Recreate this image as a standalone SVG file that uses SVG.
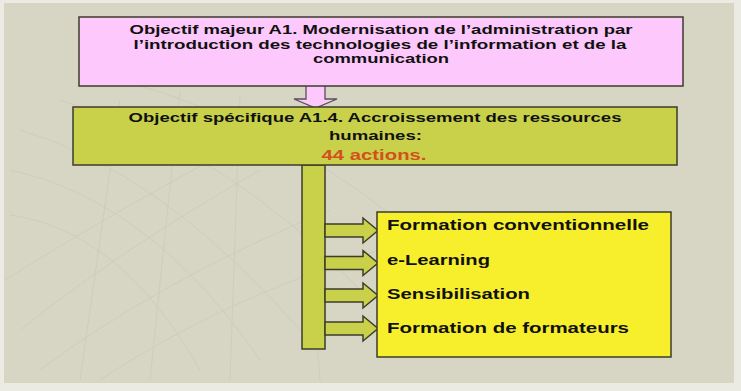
<svg xmlns="http://www.w3.org/2000/svg" width="741" height="391" viewBox="0 0 741 391">
  <style>
    .t { font-family: "Liberation Sans", Arial, sans-serif; font-weight: bold; fill: #111; }
    .c { text-anchor: middle; }
    .box { stroke: #3e3d2c; stroke-width: 1.5; }
    .pink { fill: #fdc8fb; }
    .green { fill: #c9d14b; }
    .yellow { fill: #f7ef2c; }
    .deco { fill: none; stroke: #bebca9; stroke-width: 0.8; opacity: 0.4; }
  </style>

  <!-- slide background -->
  <rect x="0" y="0" width="741" height="391" fill="#ecebe3"/>
  <rect x="4" y="3" width="730" height="380" fill="#d7d5c3"/>

  <!-- faint decorative grid sweeping out of the lower left -->
  <g id="background-grid" class="deco">
    <path d="M20 130 Q160 170 300 330"/>
    <path d="M10 170 Q150 200 260 360"/>
    <path d="M10 215 Q120 230 200 370"/>
    <path d="M60 100 Q230 150 360 290"/>
    <path d="M120 80 Q300 130 420 240"/>
    <path d="M20 330 Q120 250 260 170"/>
    <path d="M40 370 Q160 280 330 210"/>
    <path d="M100 380 Q220 300 380 250"/>
    <path d="M5 280 Q100 220 230 150"/>
    <path d="M180 90 L150 380"/>
    <path d="M240 95 L230 380"/>
    <path d="M120 100 L80 380"/>
    <path d="M300 110 L320 380"/>
  </g>

  <!-- connectors: arrow between objectives, trunk and branch arrows -->
  <g id="connectors">
    <polygon class="pink" stroke="#5b4e5a" stroke-width="1.3"
             points="306,85 325,85 325,99 337,99 315.5,108 294,99 306,99"/>
    <rect class="green box" x="302" y="165" width="23" height="184"/>
    <polygon class="green box" points="325,224 363,224 363,218 378,230.5 363,243 363,237 325,237"/>
    <polygon class="green box" points="325,256.5 363,256.5 363,250.5 378,263 363,275.5 363,269.5 325,269.5"/>
    <polygon class="green box" points="325,289 363,289 363,283 378,295.5 363,308 363,302 325,302"/>
    <polygon class="green box" points="325,322 363,322 363,316 378,328.5 363,341 363,335 325,335"/>
  </g>

  <!-- major objective -->
  <g id="objectif-majeur">
    <rect class="pink box" x="79" y="17" width="604" height="69"/>
    <text class="t c" x="381" y="34" font-size="13" textLength="503" lengthAdjust="spacingAndGlyphs">Objectif majeur A1. Modernisation de l’administration par</text>
    <text class="t c" x="380" y="48.5" font-size="13" textLength="493" lengthAdjust="spacingAndGlyphs">l’introduction des technologies de l’information et de la</text>
    <text class="t c" x="381" y="63" font-size="13" textLength="136" lengthAdjust="spacingAndGlyphs">communication</text>
  </g>

  <!-- specific objective -->
  <g id="objectif-specifique">
    <rect class="green box" x="73" y="107" width="604" height="58"/>
    <text class="t c" x="375" y="122" font-size="13" textLength="493" lengthAdjust="spacingAndGlyphs">Objectif spécifique A1.4. Accroissement des ressources</text>
    <text class="t c" x="375.5" y="140" font-size="13" textLength="93" lengthAdjust="spacingAndGlyphs">humaines:</text>
    <text class="t c" x="374" y="160" font-size="15" textLength="105" lengthAdjust="spacingAndGlyphs" style="fill:#d2501c">44 actions.</text>
  </g>

  <!-- action types -->
  <g id="types-actions">
    <rect class="yellow box" x="377" y="212" width="294" height="145"/>
    <text class="t" x="387" y="230" font-size="15" textLength="262" lengthAdjust="spacingAndGlyphs">Formation conventionnelle</text>
    <text class="t" x="387" y="264.5" font-size="15" textLength="103" lengthAdjust="spacingAndGlyphs">e-Learning</text>
    <text class="t" x="387" y="298.5" font-size="15" textLength="143" lengthAdjust="spacingAndGlyphs">Sensibilisation</text>
    <text class="t" x="387" y="333" font-size="15" textLength="242" lengthAdjust="spacingAndGlyphs">Formation de formateurs</text>
  </g>
</svg>
